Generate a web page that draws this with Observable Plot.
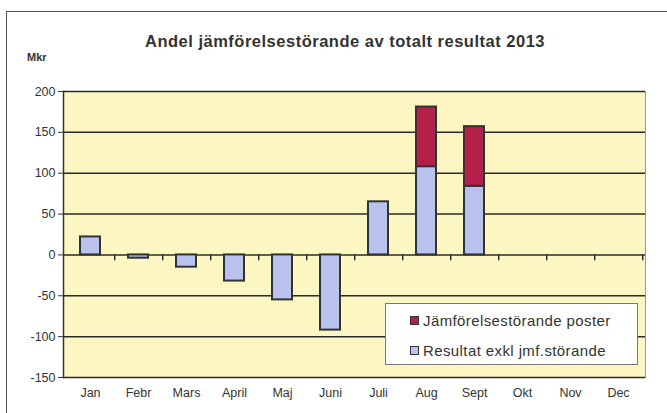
<!DOCTYPE html>
<html><head><meta charset="utf-8">
<script src="https://cdn.jsdelivr.net/npm/d3@7"></script>
<script src="https://cdn.jsdelivr.net/npm/@observablehq/plot@0.6"></script>
<style>
html,body{margin:0;padding:0;background:#fff;}
#wrap{position:relative;width:667px;height:413px;overflow:hidden;font-family:"Liberation Sans",Arial,sans-serif;color:#333;}
#outer{position:absolute;left:6px;top:11px;width:700px;height:420px;border:1.5px solid #555;box-sizing:border-box;}
#title{position:absolute;left:0;width:690px;top:32px;text-align:center;font-weight:bold;font-size:16.5px;letter-spacing:0.5px;color:#333;}
#mkr{position:absolute;left:27px;top:51px;font-weight:bold;font-size:11px;}
#legend{position:absolute;left:385px;top:303px;width:253px;height:62px;box-sizing:border-box;background:#fff;border:1.5px solid #777;font-size:15px;letter-spacing:0.4px;}
.li{position:absolute;left:24px;display:flex;align-items:center;white-space:nowrap;}
.sw{width:7px;height:7px;border:1px solid #333;margin-right:4px;}
</style></head>
<body><div id="wrap"><div id="outer"></div><div id="chart"></div>
<div id="title">Andel jämförelsestörande av totalt resultat 2013</div>
<div id="mkr">Mkr</div>
<div id="legend"></div>
</div>
<script>
const months = ["Jan","Febr","Mars","April","Maj","Juni","Juli","Aug","Sept","Okt","Nov","Dec"];
const seriesNames = ["Resultat exkl jmf.störande","Jämförelsestörande poster"];
const resultatExkl = [22, -4, -15, -32, -55, -92, 65, 108, 84, null, null, null];
const jmfStorande = [0, 0, 0, 0, 0, 0, 0, 73, 73, null, null, null];
const yTicks = [-150, -100, -50, 0, 50, 100, 150, 200];
const colors = ["#b9c3ee", "#b3204a"];

const rows = [];
months.forEach((m, i) => {
  if (resultatExkl[i]) rows.push({month: m, series: seriesNames[0], value: resultatExkl[i]});
  if (jmfStorande[i]) rows.push({month: m, series: seriesNames[1], value: jmfStorande[i]});
});

const chart = Plot.plot({
  width: 667, height: 413,
  marginLeft: 63, marginRight: 22, marginTop: 91, marginBottom: 36,
  style: {fontFamily: "'Liberation Sans', Arial, sans-serif", fontSize: "12.5px", color: "#333", background: "transparent"},
  x: {domain: months, paddingInner: 0.58, paddingOuter: 0.29, label: null},
  y: {domain: [-150, 200], label: null},
  color: {domain: seriesNames, range: colors},
  marks: [
    Plot.frame({fill: "#fbf6c2", stroke: "#999"}),
    Plot.ruleY(yTicks, {stroke: "#2b2b2b", strokeWidth: 1.5}),
    Plot.ruleX(months, {x: d => d, dx: 24.25, y1: 0, y2: -7, stroke: "#2b2b2b", strokeWidth: 1.5}),
    Plot.barY(rows, {x: "month", y: "value", fill: "series", stroke: "#333", strokeWidth: 2}),
    Plot.frame({anchor: "left", stroke: "#333", strokeWidth: 1.5}),
    Plot.axisY({ticks: yTicks, tickSize: 5, tickPadding: 3, tickFormat: d => String(d), label: null, stroke: "#333"}),
    Plot.axisX({tickSize: 0, tickPadding: 11, label: null})
  ]
});
document.getElementById("chart").appendChild(chart);

const legend = document.getElementById("legend");
[[seriesNames[1], colors[1], 8], [seriesNames[0], colors[0], 38]].forEach(([name, c, top]) => {
  const d = document.createElement("div");
  d.className = "li"; d.style.top = top + "px";
  const s = document.createElement("span"); s.className = "sw"; s.style.background = c;
  d.appendChild(s); d.appendChild(document.createTextNode(name));
  legend.appendChild(d);
});
</script></body></html>
